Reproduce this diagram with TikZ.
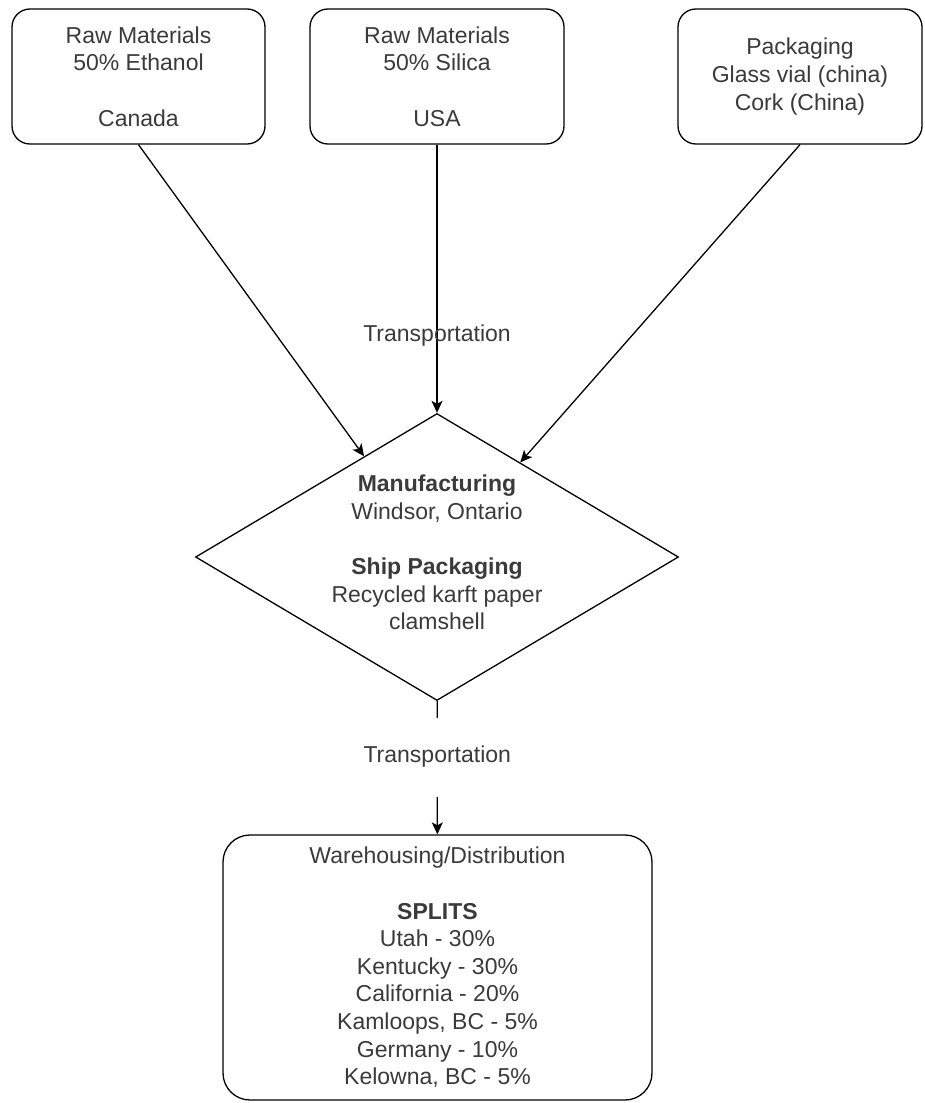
\documentclass[tikz,border=0pt]{standalone}
\usepackage{fontspec}
\setmainfont{Liberation Sans}
\usetikzlibrary{shapes.geometric,arrows.meta}
\definecolor{txtgray}{HTML}{3A3A3A}
\tikzset{
    srcbox/.style={draw, rounded corners=18pt, minimum height=135pt, align=center, text=txtgray},
    flow/.style={-{Stealth[length=12pt,width=11pt,inset=3pt]}},
    lbl/.style={text=txtgray},
}
\begin{document}
\begin{tikzpicture}[x=1pt, y=-1pt, line width=1.3pt,
        every node/.style={font=\fontsize{23}{27.6}\selectfont}]
    \useasboundingbox (0,0) rectangle (924,1103);
    \draw   (138.5, 76.5) node[srcbox, minimum width=253pt] (raw1) {Raw Materials\\50\% Ethanol\\[27.6pt]Canada}
            (437, 76.5) node[srcbox, minimum width=254pt] (raw2) {Raw Materials\\50\% Silica\\[27.6pt]USA}
            (800, 76.5) node[srcbox, minimum width=244pt] (pack) {Packaging\\Glass vial (china)\\Cork (China)}
            (437, 557) node[diamond, draw, minimum width=483pt, minimum height=287pt, inner sep=0pt,
                label={[align=center, lbl, yshift=4.5pt]center:{\textbf{Manufacturing}\\Windsor, Ontario\\[27.6pt]\textbf{Ship Packaging}\\Recycled karft paper\\clamshell}}] (man) {}
            (437.5, 967.5) node[draw, rounded corners=27pt, minimum width=429pt, minimum height=265pt, align=center, lbl] (ware)
                {Warehousing/Distribution\\[27.6pt]\textbf{SPLITS}\\Utah - 30\%\\Kentucky - 30\%\\California - 20\%\\Kamloops, BC - 5\%\\Germany - 10\%\\Kelowna, BC - 5\%}

            (raw1.south) edge [flow] (man)
            (raw2) edge [flow] node[pos=0.71, lbl] {Transportation} (man)
            (pack.south) edge [flow] (man)
            (man) edge [flow] node[pos=0.42, lbl, fill=white, minimum height=79pt] {Transportation} (ware)
            ;
\end{tikzpicture}
\end{document}
